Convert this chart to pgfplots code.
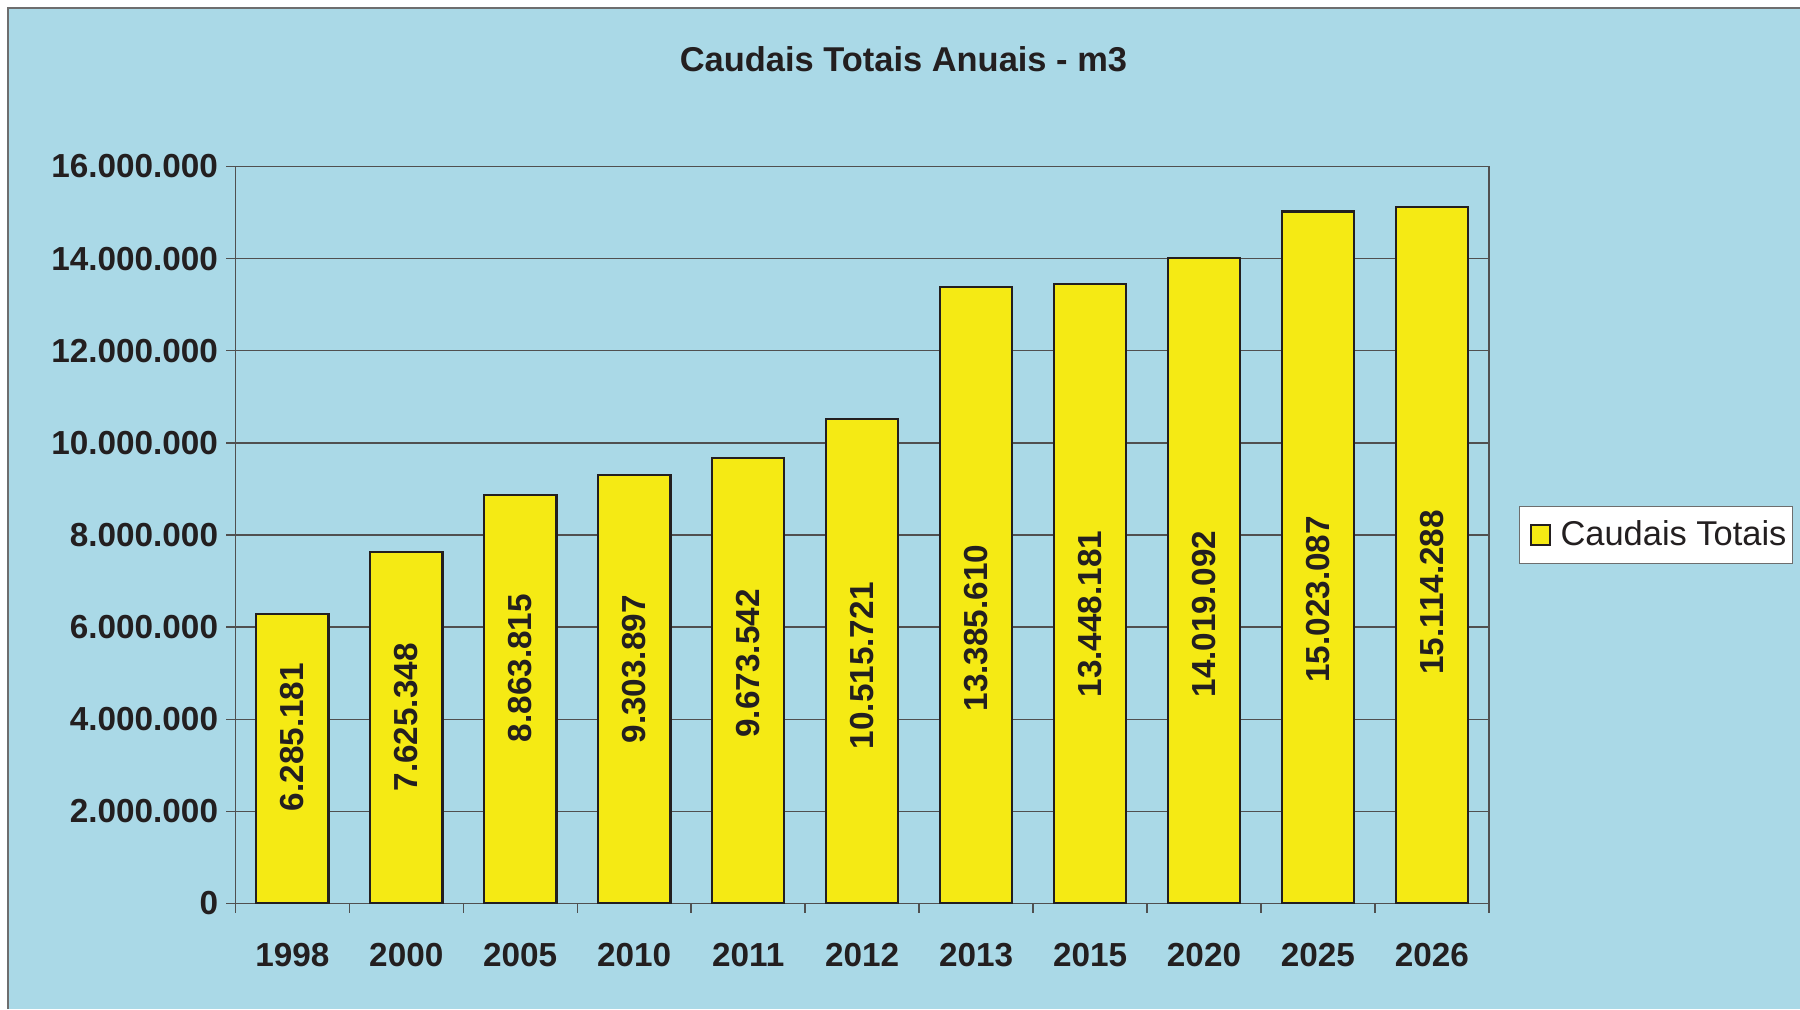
\documentclass[border=0pt]{standalone}
\usepackage{fontspec}
\setmainfont{Liberation Sans}
\usepackage{pgfplots}
\pgfplotsset{compat=1.18}
\definecolor{bgblue}{RGB}{170,217,231}
\definecolor{baryellow}{RGB}{245,234,20}
\definecolor{ink}{RGB}{35,31,32}
\definecolor{gridgray}{RGB}{80,80,80}
\definecolor{framegray}{RGB}{110,110,110}
\begin{document}
\begin{tikzpicture}[x=1pt,y=1pt]
\useasboundingbox (0,0) rectangle (784,439.5);
\fill[white] (0,0) rectangle (784,439.5);
\fill[bgblue] (3.5,0) rectangle (784,436);
\draw[framegray, line width=0.8pt] (3.5,0) -- (3.5,436) -- (784,436);
\node[font=\fontsize{15}{18}\selectfont\bfseries, text=ink] at (393.5,413.5) {Caudais Totais Anuais - m3};
\begin{axis}[
  at={(102.5pt,46pt)}, anchor=south west,
  scale only axis, width=546pt, height=321pt,
  xmin=-0.5, xmax=10.5, ymin=0, ymax=16000000,
  xtick={-0.5,0.5,1.5,2.5,3.5,4.5,5.5,6.5,7.5,8.5,9.5,10.5},
  x tick label as interval,
  xticklabels={1998,2000,2005,2010,2011,2012,2013,2015,2020,2025,2026},
  ytick={0,2000000,4000000,6000000,8000000,10000000,12000000,14000000,16000000},
  scaled y ticks=false,
  /pgf/number format/assume math mode=true,
  yticklabel style={/pgf/number format/.cd, fixed, precision=0, 1000 sep={.}},
  tick label style={font=\fontsize{14.5}{17}\selectfont\bfseries, text=ink},
  xticklabel style={yshift=-10pt},
  tick pos=left,
  tick align=outside, major tick length=4pt,
  tick style={gridgray, line width=0.6pt},
  ymajorgrids, grid style={gridgray, line width=0.6pt},
  axis line style={gridgray, line width=0.6pt},
  legend style={at={(1,0.5)}, anchor=west, xshift=13pt, draw=framegray, fill=white,
    font=\fontsize{15}{18}\selectfont, text=ink, inner xsep=0.5pt, inner ysep=4.25pt},
  legend cell align=left,
]
\addplot[ybar, bar width=31.5pt, bar shift=0pt, fill=baryellow, draw=ink, line width=1pt,
  legend image code/.code={\path[draw=none, fill=none] (0pt,0pt) rectangle (15.5pt,0.1pt);
    \draw[fill=baryellow, draw=ink, line width=0.8pt] (4.5pt,-4.25pt) rectangle (13pt,4.25pt);}]
  coordinates {(0,6285181) (1,7625348) (2,8863815) (3,9303897) (4,9673542) (5,10515721)
               (6,13385610) (7,13448181) (8,14019092) (9,15023087) (10,15114288)};
\addlegendentry{Caudais Totais}
\addplot[draw=none, mark=none, forget plot, point meta=explicit symbolic, nodes near coords,
  nodes near coords style={rotate=90, anchor=center, font=\fontsize{14.5}{17}\selectfont\bfseries, text=ink}]
  coordinates {(0,3610000) [6.285.181] (1,4040000) [7.625.348] (2,5110000) [8.863.815]
               (3,5080000) [9.303.897] (4,5210000) [9.673.542] (5,5160000) [10.515.721]
               (6,5980000) [13.385.610] (7,6280000) [13.448.181] (8,6280000) [14.019.092]
               (9,6600000) [15.023.087] (10,6750000) [15.114.288]};
\end{axis}
\end{tikzpicture}
\end{document}
